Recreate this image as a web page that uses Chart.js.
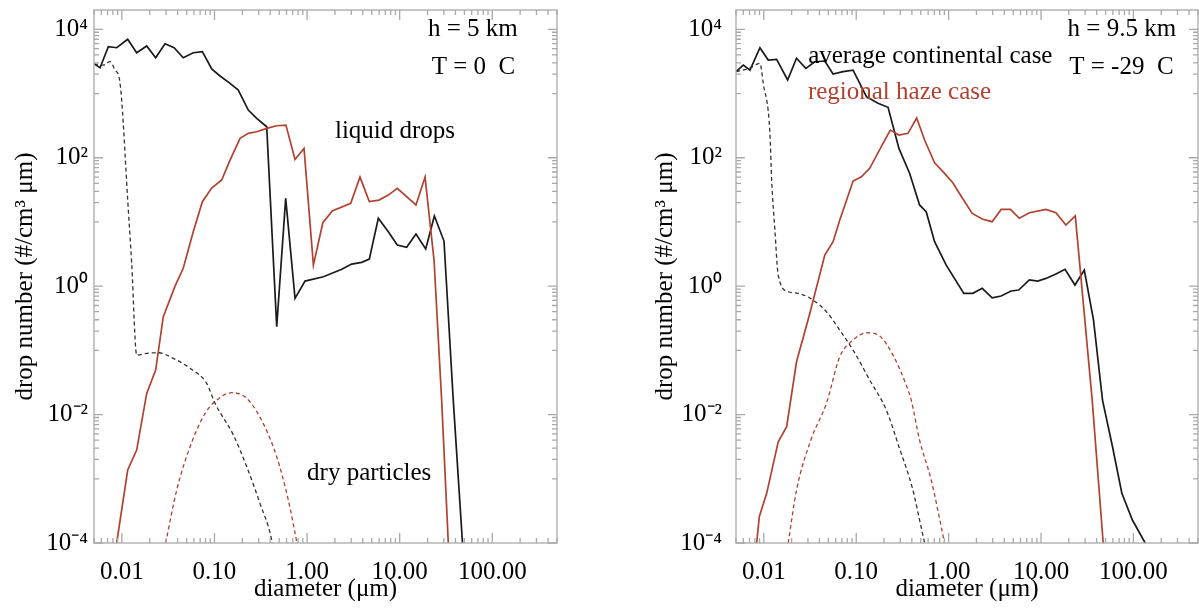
<!DOCTYPE html>
<html lang="en">
  <head>
    <meta charset="UTF-8" />
    <title>Drop number distributions</title>
    <script src="https://cdn.jsdelivr.net/npm/chart.js"></script>
    <style>
      body {
        margin: 0;
        background: #fff;
        width: 1199px;
        height: 613px;
        overflow: hidden;
        position: relative;
      }
      .panel {
        position: absolute;
        top: 0;
        height: 613px;
      }
      #left {
        left: 0;
        width: 600px;
      }
      #right {
        left: 640px;
        width: 559px;
      }
    </style>
  </head>
  <body>
    <div class="panel" id="left"><canvas id="leftChart"></canvas></div>
    <div class="panel" id="right"><canvas id="rightChart"></canvas></div>
    <script>
      // axis ticks
      const xTickVals = [0.01, 0.1, 1, 10, 100]
      const xTickLabels = ['0.01', '0.10', '1.00', '10.00', '100.00']
      const yTickVals = [1e-4, 1e-2, 1, 1e2, 1e4]
      const yTickLabels = ['10⁻⁴', '10⁻²', '10⁰', '10²', '10⁴']

      // h = 5 km, average continental, liquid drops (black solid)
      const dAvgLiq5 = [0.005, 0.00581, 0.00714, 0.00879, 0.01156, 0.01445, 0.01854, 0.02317, 0.02924, 0.0366, 0.046, 0.059, 0.074, 0.0933, 0.1148, 0.1473, 0.1807, 0.2317, 0.2858, 0.3664, 0.47, 0.5875, 0.741, 0.951, 1.5, 2.37, 3.03, 3.89, 4.7, 5.88, 7.54, 9.42, 11.9, 15.0, 19.1, 23.7, 30.1, 37.9, 47.7]
      const nAvgLiq5 = [2900, 2525, 5360, 5170, 6990, 4320, 5500, 3610, 5970, 5170, 3610, 4320, 4480, 2410, 1875, 1443, 1135, 553, 411, 304, 0.233, 23.3, 0.646, 1.2, 1.4, 1.83, 2.21, 2.35, 2.64, 11.4, 7.05, 4.37, 4.03, 6.49, 3.79, 12.4, 5.04, 0.0168, 1e-4]
      // h = 5 km, regional haze, liquid drops (red solid)
      const dHazeLiq5 = [0.00879, 0.01156, 0.01445, 0.01854, 0.02317, 0.028, 0.0375, 0.046, 0.059, 0.074, 0.0933, 0.1197, 0.1473, 0.189, 0.2317, 0.2858, 0.3664, 0.47, 0.591, 0.741, 0.927, 1.17, 1.48, 1.87, 2.96, 3.73, 4.7, 5.98, 7.54, 9.42, 15.0, 18.8, 23.5, 28.4, 33.5]
      const nHazeLiq5 = [1e-4, 1.37e-3, 2.8e-3, 0.0214, 0.0494, 0.334, 1.0, 1.9, 7.05, 20.7, 33.7, 45, 92, 201, 240, 254, 287, 315, 323, 94, 140, 2.13, 9.72, 14.8, 19.5, 50, 20.7, 21.9, 26.2, 33.4, 18.4, 50, 2.55, 0.0168, 1e-4]
      // h = 5 km, dry particles (dashed)
      const dAvgDry5 = [0.005, 0.0063, 0.00745, 0.00844, 0.00938, 0.00995, 0.01156, 0.01276, 0.01445, 0.01854, 0.0247, 0.0359, 0.0545, 0.0824, 0.1014, 0.16, 0.223, 0.31, 0.415, 0.43]
      const nAvgDry5 = [2900, 2780, 3130, 2320, 1726, 793, 21.9, 2.29, 0.0845, 0.0899, 0.0918, 0.0752, 0.0525, 0.0306, 0.015, 4.8e-3, 1.54e-3, 4.14e-4, 1.11e-4, 8e-5]
      const dHazeDry5 = [0.0297, 0.0391, 0.0545, 0.0791, 0.1057, 0.1535, 0.223, 0.336, 0.47, 0.627, 0.778]
      const nHazeDry5 = [1e-4, 6.67e-4, 3.16e-3, 0.0104, 0.0168, 0.0219, 0.0179, 7.3e-3, 2.2e-3, 4.67e-4, 1e-4]

      // h = 9.5 km
      const dAvgLiq95 = [0.005, 0.006, 0.00708, 0.00908, 0.01117, 0.01377, 0.0181, 0.0226, 0.0285, 0.0356, 0.0457, 0.0562, 0.0721, 0.0925, 0.129, 0.172, 0.221, 0.29, 0.379, 0.485, 0.573, 0.705, 0.942, 1.46, 1.83, 2.31, 2.96, 3.7, 4.74, 5.73, 7.48, 9.2, 11.3, 14.5, 18.2, 23.3, 29.4, 37.0, 46.3, 59.4, 75.0, 97.5, 134]
      const nAvgLiq95 = [2188, 2780, 2320, 5170, 3330, 3410, 1625, 3540, 2470, 3130, 3210, 2015, 2188, 2320, 893, 705, 610, 140, 57, 18.4, 14.3, 4.92, 2.13, 0.773, 0.773, 0.925, 0.66, 0.702, 0.84, 0.871, 1.25, 1.2, 1.32, 1.55, 1.83, 1.04, 1.78, 0.296, 0.0168, 3.16e-3, 5.93e-4, 2.28e-4, 1e-4]
      const dHazeLiq95 = [0.00838, 0.00893, 0.01074, 0.01432, 0.01767, 0.0226, 0.0315, 0.0457, 0.0562, 0.0664, 0.0925, 0.1138, 0.14, 0.195, 0.234, 0.29, 0.363, 0.451, 0.55, 0.705, 0.904, 1.11, 1.38, 1.8, 2.34, 2.96, 3.7, 4.67, 5.83, 7.48, 11.3, 14.5, 18.6, 23.5, 27.0, 35.8, 47.1]
      const nHazeLiq95 = [1e-4, 2.56e-4, 5.93e-4, 3.78e-3, 6.47e-3, 0.0665, 0.378, 3.05, 4.92, 10.7, 43.4, 50.6, 68.4, 168, 270, 226, 240, 416, 189, 83.6, 57, 40.8, 24.7, 13.6, 11.0, 10.1, 15.7, 15.7, 11.4, 13.9, 15.7, 13.9, 8.95, 12.4, 1.4, 0.0168, 1e-4]
      const dAvgDry95 = [0.005, 0.00708, 0.00908, 0.00986, 0.01164, 0.01216, 0.01318, 0.01432, 0.01837, 0.0236, 0.0342, 0.0476, 0.0664, 0.0925, 0.14, 0.212, 0.29, 0.411, 0.485, 0.55]
      const nAvgDry95 = [2188, 2500, 2958, 1443, 243, 45, 7.48, 1.49, 0.818, 0.773, 0.608, 0.4, 0.207, 0.101, 0.0345, 0.0117, 3.16e-3, 6.67e-4, 2.28e-4, 1e-4]
      const dHazeDry95 = [0.01837, 0.0226, 0.0328, 0.0476, 0.0664, 0.0925, 0.129, 0.1795, 0.25, 0.348, 0.394, 0.485, 0.649, 0.904]
      const nHazeDry95 = [1e-4, 6.67e-4, 4.26e-3, 0.015, 0.0796, 0.145, 0.188, 0.167, 0.0845, 0.0288, 0.0168, 4.0e-3, 9.5e-4, 1e-4]

      // text notes, placed in data coordinates (left edge, baseline)
      const notes5 = [
        { text: 'h = 5 km', x: 20.2, y: 7870, color: '#000' },
        { text: 'T = 0  C', x: 22.2, y: 2015, color: '#000' },
        { text: 'liquid drops', x: 2.0, y: 201, color: '#000' },
        { text: 'dry particles', x: 1.0, y: 9.5e-4, color: '#000' }
      ]
      const notes95 = [
        { text: 'h = 9.5 km', x: 19.4, y: 7870, color: '#000' },
        { text: 'T = -29  C', x: 20.2, y: 2015, color: '#000' },
        { text: 'average continental case', x: 0.0302, y: 2958, color: '#000' },
        { text: 'regional haze case', x: 0.03, y: 813, color: '#b2412f' }
      ]

      const BLACK = '#1a1a1a'
      const RED = '#b2412f'
      const FRAME = '#a9a9a9'
      const FONT = 'Liberation Serif'

      const pts = (xs, ys) => xs.map((x, i) => ({ x: x, y: ys[i] }))

      function solid(xs, ys, color) {
        return { data: pts(xs, ys), borderColor: color, borderWidth: 1.7, pointRadius: 0, tension: 0 }
      }
      function dashed(xs, ys, color) {
        return {
          data: pts(xs, ys),
          borderColor: color,
          borderWidth: 1.3,
          borderDash: [4, 3],
          pointRadius: 0,
          cubicInterpolationMode: 'monotone'
        }
      }

      // inward ticks on all four sides plus the box, like the original plot
      const frameTicks = {
        id: 'frameTicks',
        afterDatasetsDraw(chart) {
          const { ctx, chartArea: a } = chart
          const xs = chart.scales.x
          const ys = chart.scales.y
          ctx.save()
          ctx.strokeStyle = FRAME
          ctx.lineWidth = 1.3
          ctx.strokeRect(a.left, a.top, a.right - a.left, a.bottom - a.top)
          ctx.beginPath()
          for (let k = -3; k <= 2; k++) {
            for (let m = 1; m <= 9; m++) {
              const v = m * Math.pow(10, k)
              if (v < xs.min || v > xs.max) continue
              const px = xs.getPixelForValue(v)
              const len = m === 1 ? 10 : 5
              ctx.moveTo(px, a.bottom)
              ctx.lineTo(px, a.bottom - len)
              ctx.moveTo(px, a.top)
              ctx.lineTo(px, a.top + len)
            }
          }
          const yMinor = []
          ;[-3, -1, 1, 3].forEach(k => {
            for (let m = 1; m <= 9; m++) yMinor.push(m * Math.pow(10, k))
          })
          yMinor.forEach(v => {
            const py = ys.getPixelForValue(v)
            ctx.moveTo(a.left, py)
            ctx.lineTo(a.left + 5, py)
            ctx.moveTo(a.right, py)
            ctx.lineTo(a.right - 5, py)
          })
          yTickVals.forEach(v => {
            const py = ys.getPixelForValue(v)
            ctx.moveTo(a.left, py)
            ctx.lineTo(a.left + 9, py)
            ctx.moveTo(a.right, py)
            ctx.lineTo(a.right - 9, py)
          })
          ctx.stroke()

          // notes
          ctx.font = '25px "' + FONT + '"'
          ctx.textAlign = 'left'
          ctx.textBaseline = 'alphabetic'
          ;(chart.options.plugins.frameTicks.notes || []).forEach(n => {
            ctx.fillStyle = n.color
            ctx.fillText(n.text, xs.getPixelForValue(n.x), ys.getPixelForValue(n.y))
          })
          ctx.restore()
        }
      }

      function makePanel(id, datasets, notes, yAxisWidth, yLabelPad, rightPad) {
        return new Chart(document.getElementById(id), {
          type: 'line',
          data: { datasets: datasets },
          plugins: [frameTicks],
          options: {
            responsive: true,
            maintainAspectRatio: false,
            animation: false,
            devicePixelRatio: 1,
            layout: { padding: { top: 10, right: rightPad, left: 0, bottom: 0 } },
            plugins: {
              legend: { display: false },
              tooltip: { enabled: false },
              frameTicks: { notes: notes }
            },
            scales: {
              x: {
                type: 'logarithmic',
                min: 0.005,
                max: 500,
                grid: { display: false, drawTicks: false },
                border: { display: false },
                afterBuildTicks: s => {
                  s.ticks = xTickVals.map(v => ({ value: v }))
                },
                afterFit: s => {
                  s.height = 70
                  s.paddingLeft = 0
                  s.paddingRight = 0
                },
                ticks: {
                  autoSkip: false,
                  maxRotation: 0,
                  padding: 14,
                  color: '#000',
                  font: { family: FONT, size: 25 },
                  callback: (v, i) => xTickLabels[i]
                },
                title: {
                  display: true,
                  text: 'diameter (μm)',
                  color: '#000',
                  font: { family: FONT, size: 25 },
                  padding: { top: 0, bottom: 9 }
                }
              },
              y: {
                type: 'logarithmic',
                min: 1e-4,
                max: 2e4,
                grid: { display: false, drawTicks: false },
                border: { display: false },
                afterBuildTicks: s => {
                  s.ticks = yTickVals.map(v => ({ value: v }))
                },
                afterFit: s => {
                  s.width = yAxisWidth
                  s.paddingTop = 0
                  s.paddingBottom = 0
                },
                ticks: {
                  autoSkip: false,
                  padding: yLabelPad,
                  color: '#000',
                  font: { family: FONT, size: 25 },
                  callback: (v, i) => yTickLabels[i]
                },
                title: {
                  display: true,
                  text: 'drop number (#/cm³ μm)',
                  color: '#000',
                  font: { family: FONT, size: 25 },
                  padding: { top: 10, bottom: 0 }
                }
              }
            }
          }
        })
      }

      makePanel(
        'leftChart',
        [
          dashed(dAvgDry5, nAvgDry5, '#333'),
          dashed(dHazeDry5, nHazeDry5, RED),
          solid(dHazeLiq5, nHazeLiq5, RED),
          solid(dAvgLiq5, nAvgLiq5, BLACK)
        ],
        notes5,
        94,
        6,
        43
      )
      makePanel(
        'rightChart',
        [
          dashed(dAvgDry95, nAvgDry95, '#333'),
          dashed(dHazeDry95, nHazeDry95, RED),
          solid(dHazeLiq95, nHazeLiq95, RED),
          solid(dAvgLiq95, nAvgLiq95, BLACK)
        ],
        notes95,
        96,
        14,
        1
      )
    </script>
  </body>
</html>
